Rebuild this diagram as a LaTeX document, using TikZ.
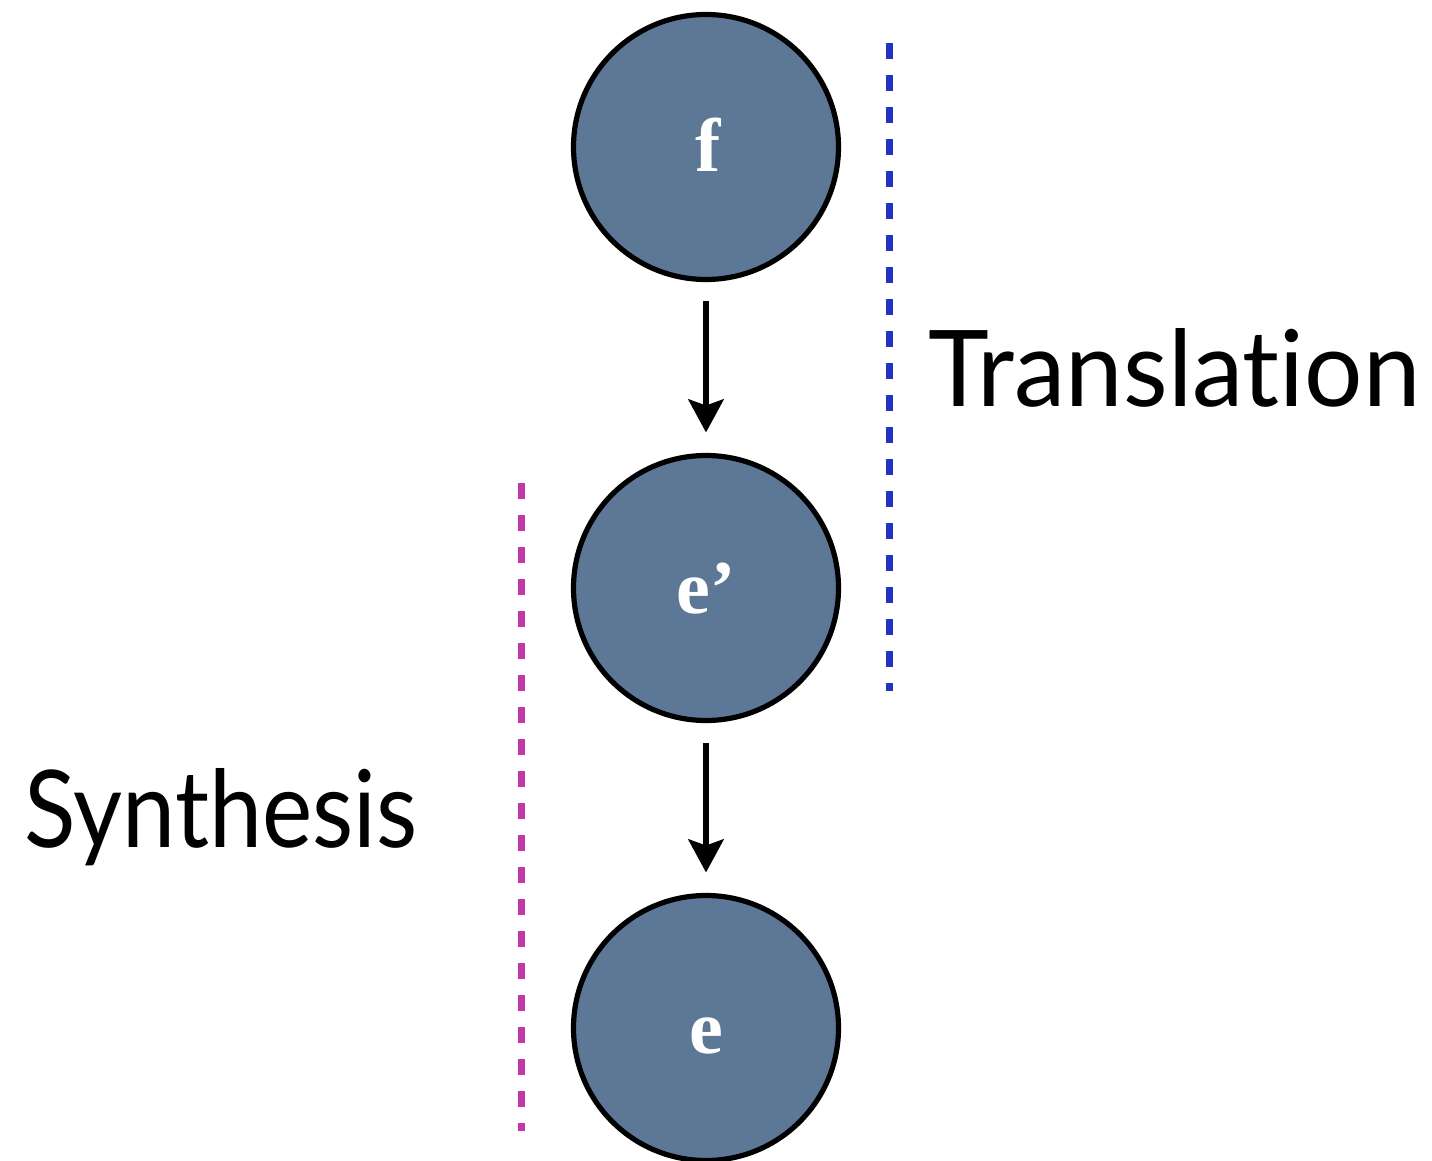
\documentclass[tikz,border=0pt]{standalone}
\usepackage{fontspec}
\setmainfont{Lato}[Ligatures={NoCommon}]
\newfontfamily\labelfont{Liberation Serif}
\usetikzlibrary{arrows.meta}
\definecolor{nodefill}{RGB}{93,120,150}
\definecolor{transblue}{RGB}{34,51,190}
\definecolor{synthmag}{RGB}{194,56,170}
\tikzset{
  var/.style={circle, draw=black, line width=2.6pt, fill=nodefill,
    minimum size=132.5pt, inner sep=0pt, outer sep=0pt},
  varlabel/.style={anchor=base, inner sep=0pt, text=white,
    font=\labelfont\bfseries\fontsize{38}{40}\selectfont},
  arr/.style={line width=3.3pt, -{Stealth[length=16.5pt, width=17.5pt, inset=3pt]},
    shorten <=11pt, shorten >=11.5pt},
  stagedots/.style={line width=3.5pt, dash pattern=on 8pt off 8pt},
  stagelabel/.style={anchor=base west, inner sep=0pt}
}
\begin{document}
\begin{tikzpicture}[x=0.5pt, y=-0.5pt]
\useasboundingbox (0,0) rectangle (1432,1161);
\node[var] (f) at (706,147) {};
\node[var] (ep) at (706,588) {};
\node[var] (e) at (706,1028) {};
\node[varlabel] (fl) at (708,172) {f};
\node[varlabel] (epl) at (706,613) {e’};
\node[varlabel] (el) at (706,1053) {e};
\draw[arr] (f) -- (ep);
\draw[arr] (ep) -- (e);
\coordinate (t1) at (889,43);
\coordinate (t2) at (889,691);
\coordinate (s1) at (521,483);
\coordinate (s2) at (521,1131);
\draw[stagedots, transblue] (t1) -- (t2);
\draw[stagedots, synthmag] (s1) -- (s2);
\node[stagelabel] (tr) at (928,407) {\resizebox{246pt}{39pt}{Translation}};
\node[stagelabel] (sy) at (24,847) {\resizebox{196.5pt}{39.5pt}{Synthesis}};
\end{tikzpicture}
\end{document}
